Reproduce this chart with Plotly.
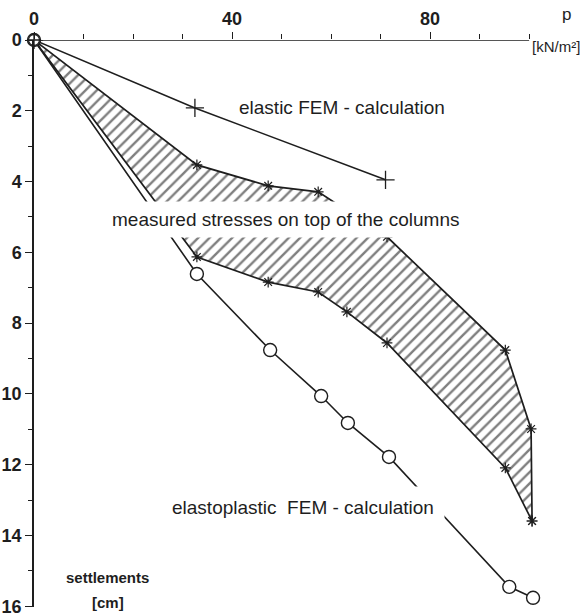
import plotly.graph_objects as go

# Data (p in kN/m², settlement in cm)
elastic_p = [0, 32.5, 71.0]
elastic_s = [0, 1.92, 3.95]

meas_upper_p = [0, 32.9, 47.3, 57.4, 71.3, 95.2, 100.4, 100.6]
meas_upper_s = [0, 3.53, 4.12, 4.29, 5.56, 8.76, 10.99, 13.59]

meas_lower_p = [0, 32.9, 47.3, 57.4, 63.2, 71.3, 95.2, 100.6]
meas_lower_s = [0, 6.13, 6.84, 7.12, 7.68, 8.56, 12.09, 13.59]

elastoplastic_p = [0, 32.9, 47.7, 58.0, 63.4, 71.7, 96.0, 100.8]
elastoplastic_s = [0, 6.61, 8.76, 10.06, 10.82, 11.78, 15.45, 15.76]

x_ticks = [0, 40, 80]
y_ticks = [0, 2, 4, 6, 8, 10, 12, 14, 16]
x_axis_end = 100

INK = "#1e1e1e"
FONT = "Liberation Sans, Arial, sans-serif"

fig = go.Figure()

# hatched band of measured stresses
poly_p = meas_upper_p + meas_lower_p[::-1]
poly_s = meas_upper_s + meas_lower_s[::-1]
fig.add_trace(go.Scatter(
    x=poly_p, y=poly_s, mode="lines", fill="toself",
    fillcolor="rgba(0,0,0,0)",
    fillpattern=dict(shape="/", size=8, solidity=0.3, fgcolor="#000000", bgcolor="white"),
    line=dict(color=INK, width=1.7), hoverinfo="skip", showlegend=False))

star = dict(symbol="asterisk-open", size=9, color=INK, line=dict(color=INK, width=1.2))
fig.add_trace(go.Scatter(x=meas_upper_p[1:], y=meas_upper_s[1:], mode="markers",
                         marker=star, showlegend=False, cliponaxis=False))
fig.add_trace(go.Scatter(x=meas_lower_p[1:], y=meas_lower_s[1:], mode="markers",
                         marker=star, showlegend=False, cliponaxis=False))

# elastic FEM
fig.add_trace(go.Scatter(
    x=elastic_p, y=elastic_s, mode="lines+markers",
    line=dict(color=INK, width=1.6),
    marker=dict(symbol="cross-thin-open", size=13, color=INK, line=dict(color=INK, width=1.3)),
    showlegend=False))

# elastoplastic FEM
fig.add_trace(go.Scatter(
    x=elastoplastic_p, y=elastoplastic_s, mode="lines+markers",
    line=dict(color=INK, width=1.6),
    marker=dict(symbol="circle", size=13, color="white", line=dict(color=INK, width=1.4)),
    showlegend=False, cliponaxis=False))

# origin marker (circle with cross)
fig.add_trace(go.Scatter(
    x=[0], y=[0], mode="markers",
    marker=dict(symbol="circle-cross-open", size=11, color=INK, line=dict(color=INK, width=1.3)),
    showlegend=False, cliponaxis=False))

# top axis line drawn only up to 100
fig.add_shape(type="line", x0=0, x1=x_axis_end, y0=0, y1=0, xref="x", yref="y",
              line=dict(color=INK, width=1.5), layer="below")

fnt = dict(family=FONT, size=19, color=INK)
fig.add_annotation(x=62.2, y=1.92, text="elastic FEM - calculation", showarrow=False,
                   font=fnt, xanchor="center", yanchor="middle")
fig.add_annotation(x=50.7, y=5.08, text="measured stresses on top of the columns", showarrow=False,
                   font=fnt, bgcolor="white", xanchor="center", yanchor="middle",
                   borderpad=7)
fig.add_annotation(x=54.3, y=13.2, text="elastoplastic  FEM - calculation", showarrow=False,
                   font=fnt, bgcolor="white", xanchor="center", yanchor="middle",
                   borderpad=10)

fig.add_annotation(x=x_axis_end, y=0, xref="x", yref="y", xanchor="center", yanchor="bottom",
                   xshift=37, yshift=14, text="p", showarrow=False,
                   font=dict(family=FONT, size=17, color=INK))
fig.add_annotation(x=x_axis_end, y=0, xref="x", yref="y", xanchor="center", yanchor="top",
                   xshift=27, yshift=4, text="[kN/m²]", showarrow=False,
                   font=dict(family=FONT, size=15, color=INK))
fig.add_annotation(x=14.9, y=15.2, text="<b>settlements</b>", showarrow=False,
                   font=dict(family=FONT, size=15, color=INK), xanchor="center")
fig.add_annotation(x=14.9, y=15.9, text="<b>[cm]</b>", showarrow=False,
                   font=dict(family=FONT, size=15, color=INK), xanchor="center")

fig.update_xaxes(range=[0, 102], side="top", tickvals=x_ticks,
                 ticktext=[f"<b>{v}</b>" for v in x_ticks],
                 ticks="outside", ticklen=7, tickwidth=1.3, tickcolor=INK,
                 minor=dict(tickvals=list(range(10, 101, 10)), ticks="outside", ticklen=5,
                            tickcolor=INK, tickwidth=1.2),
                 showline=False, showgrid=False, zeroline=False, ticklabeloverflow="allow",
                 automargin=False,
                 tickfont=dict(family=FONT, size=18, color=INK))
fig.update_yaxes(range=[16.02, 0], tickvals=y_ticks,
                 ticktext=[f"<b>{v}</b>" for v in y_ticks],
                 ticks="outside", ticklen=7, tickwidth=1.3, tickcolor=INK,
                 minor=dict(dtick=1, ticks="outside", ticklen=4, tickcolor=INK, tickwidth=1.2),
                 showline=True, linecolor=INK, linewidth=1.5, showgrid=False, zeroline=False,
                 ticklabeloverflow="allow", automargin=False,
                 tickfont=dict(family=FONT, size=18, color=INK))

fig.update_layout(width=585, height=616, margin=dict(l=34, r=46, t=40, b=9),
                  plot_bgcolor="white", paper_bgcolor="white", showlegend=False)

fig.write_html("out.html")
